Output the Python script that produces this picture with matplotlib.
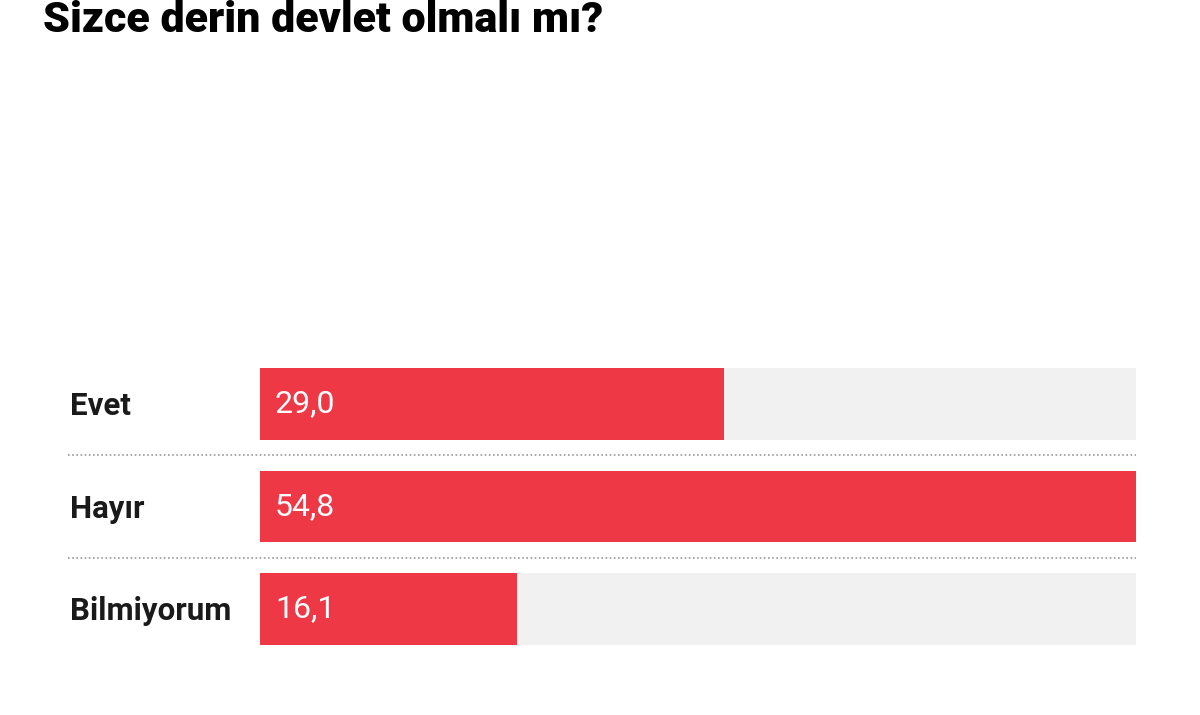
import matplotlib
matplotlib.use("Agg")
import matplotlib.pyplot as plt
from matplotlib.transforms import blended_transform_factory

title = "Sizce derin devlet olmalı mı?"
categories = ["Evet", "Hayır", "Bilmiyorum"]
values = [29.0, 54.8, 16.1]
value_labels = ["29,0", "54,8", "16,1"]

BAR = "#EE3846"
TRACK = "#F1F1F1"

plt.rcParams['font.family'] = ['Roboto', 'DejaVu Sans']

fig = plt.figure(figsize=(12, 7.15), dpi=100)
fig.patch.set_facecolor("white")
ax = fig.add_axes([260/1200, 1-680/715, 876/1200, 340/715])
vmax = max(values)
ax.set_xlim(0, vmax)
ax.set_ylim(2.693, -0.624)
ax.axis("off")

ypos = list(range(len(categories)))
ax.barh(ypos, [vmax]*len(values), height=0.70, color=TRACK, zorder=1)
ax.barh(ypos, values, height=0.70, color=BAR, zorder=2)

xmin_line = (68-260)/876*vmax
for i in range(len(categories)-1):
    ax.plot([xmin_line, vmax], [i+0.5, i+0.5], color="#9a9a9a", lw=1.2,
            linestyle=(0, (1, 1.5)), clip_on=False, zorder=0)

tr = blended_transform_factory(fig.transFigure, ax.transData)
for i, (c, v, lab) in enumerate(zip(categories, values, value_labels)):
    ax.text(70/1200, i + 0.02, c, transform=tr, ha="left", va="center",
            fontsize=22.5, fontweight="bold", color="#1a1a1a")
    ax.text(vmax*15/876, i, lab, ha="left", va="center", fontsize=23,
            color="white", zorder=3)

fig.text(43/1200, 1-32/715, title, ha="left", va="baseline",
         fontsize=31, fontweight="black", color="black")

fig.savefig("out.png", dpi=100, facecolor="white")
